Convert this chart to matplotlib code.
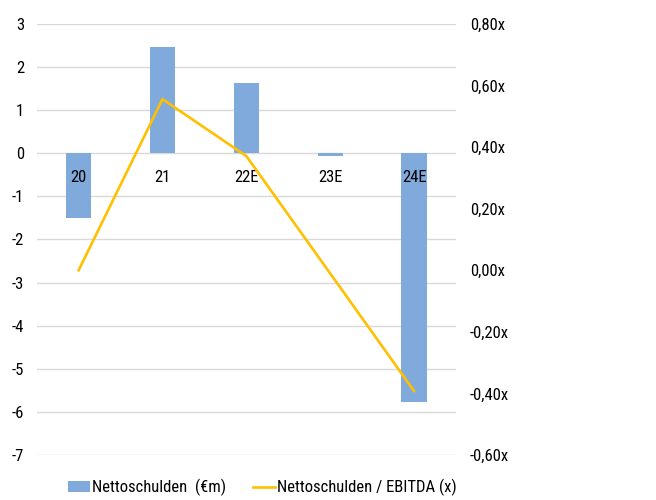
import matplotlib
matplotlib.use("Agg")
import matplotlib.pyplot as plt
from matplotlib.ticker import FuncFormatter, MultipleLocator

categories = ["20", "21", "22E", "23E", "24E"]
net_debt = [-1.50, 2.47, 1.62, -0.07, -5.76]
ratio = [0.00, 0.556, 0.371, -0.01, -0.392]

plt.rcParams['font.family'] = ['Roboto Condensed', 'Roboto', 'DejaVu Sans']
FS = 12
plt.rcParams['font.size'] = FS

fig = plt.figure(figsize=(6.56, 5.0), dpi=100)
ax = fig.add_axes([0.056, 0.09, 0.639, 0.862])
ax2 = ax.twinx()

x = list(range(len(categories)))
bars = ax.bar(x, net_debt, width=0.3, color="#7FAADB", zorder=2)
ax.set_ylim(-7, 3)
ax.set_xlim(-0.5, len(categories) - 0.5)
ax.yaxis.set_major_locator(MultipleLocator(1))
ax.grid(axis='y', color="#D9D9D9", linewidth=1.0, zorder=0)
ax.set_axisbelow(True)
ax.set_xticks([])
for s in ax.spines.values():
    s.set_visible(False)
for s in ax2.spines.values():
    s.set_visible(False)
ax.tick_params(axis='y', length=0, pad=9)
ax.yaxis.set_major_formatter(FuncFormatter(lambda v, p: f"{int(round(v))}"))

for xi, lab in zip(x, categories):
    ax.annotate(lab, xy=(xi, 0), xytext=(0, -24), textcoords='offset pixels',
                ha='center', va='center', fontsize=FS, zorder=5)

line, = ax2.plot(x, ratio, color="#FFC000", linewidth=1.9, zorder=3)
ax2.set_ylim(-0.6, 0.8)
ax2.yaxis.set_major_locator(MultipleLocator(0.2))
ax2.yaxis.set_major_formatter(FuncFormatter(lambda v, p: f"{v:.2f}".replace('.', ',').replace('-0,00', '0,00') + "x"))
ax2.tick_params(axis='y', length=0, pad=10)

fig.legend([bars, line], ["Nettoschulden  (€m)", "Nettoschulden / EBITDA (x)"],
           loc='center', bbox_to_anchor=(0.40, 0.025), ncol=2, frameon=False,
           handlelength=1.35, handleheight=0.6, handletextpad=0.12, columnspacing=1.6, fontsize=FS)

fig.savefig("out.png", dpi=100)
